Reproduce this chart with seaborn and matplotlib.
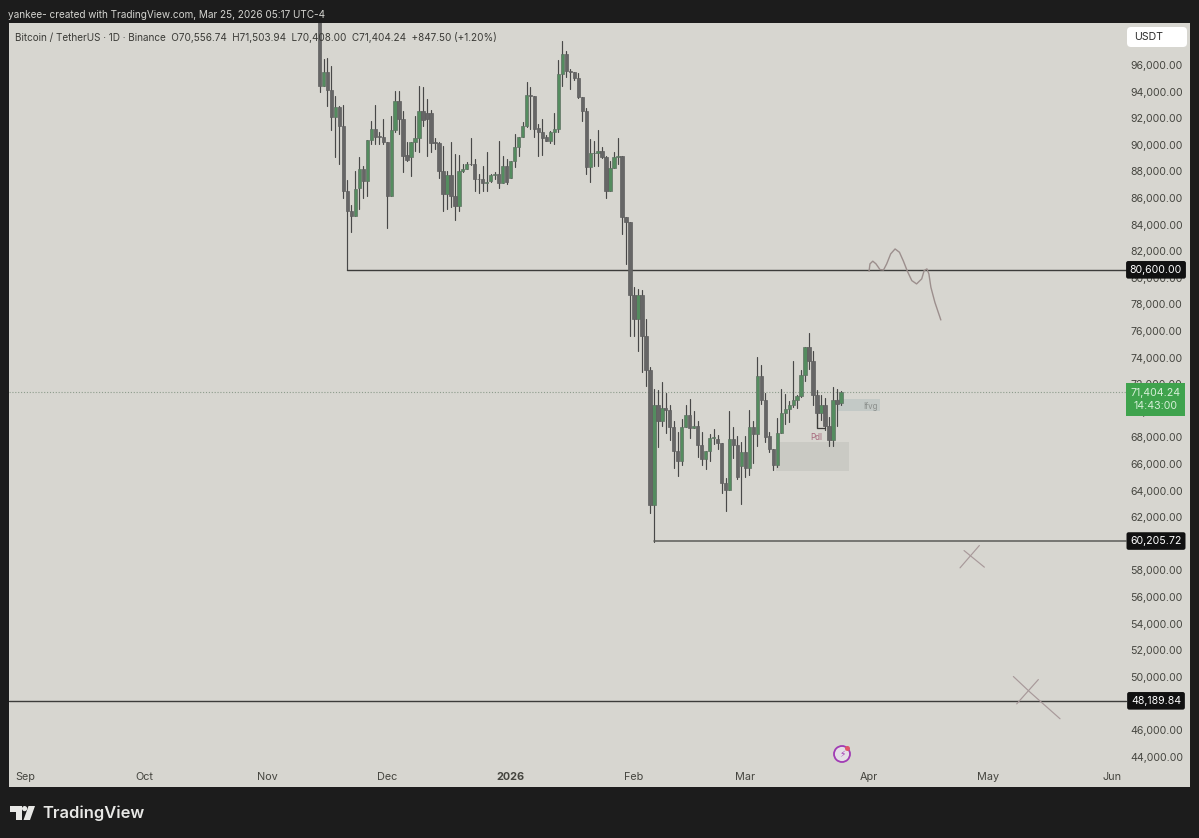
import numpy as np
import pandas as pd
import matplotlib
matplotlib.use("Agg")
import matplotlib.pyplot as plt
from matplotlib.patches import Rectangle, Polygon, Ellipse, FancyBboxPatch
from matplotlib.transforms import blended_transform_factory, IdentityTransform
import seaborn as sns

# Daily candles, thousand USDT, first candle 14 Nov 2025 (day 74 counted from 1 Sep 2025)
first_day = 74
opens = [99.7,94.46,95.51,94.13,92.07,92.83,91.45,86.49,85.01,84.63,86.74,88.19,87.26,90.37,91.20,90.69,90.62,90.24,86.18,91.12,93.33,91.95,89.24,89.12,90.24,90.52,92.58,92.36,92.36,90.19,90.12,88.06,86.31,87.76,86.13,85.43,88.01,88.19,88.57,88.54,87.44,
         87.44,87.11,87.26,87.76,87.80,87.11,88.37,87.51,88.77,89.87,90.57,91.40,93.75,93.65,91.25,90.95,90.62,90.32,90.95,91.20,95.33,96.84,95.53,95.46,95.01,93.58,92.53,88.32,89.37,89.40,89.52,89.12,86.56,88.24,89.12,89.19,84.56,
         84.18,78.67,76.91,78.67,75.66,73.08,62.88,70.47,69.22,70.22,70.07,68.77,66.96,66.21,68.77,69.72,68.72,68.82,
         67.39,66.39,66.94,67.97,67.89,67.59,64.56,64.01,67.89,67.39,65.84,66.89,65.71,68.77,68.27,72.58,70.82,68.07,67.14,65.89,68.34,69.85,70.10,70.47,70.82,71.10,72.70,74.78,73.78,71.15,69.85,70.40,68.82,67.77,70.82,70.557]
highs = [99.9,96.46,96.54,95.96,93.70,92.95,93.03,87.39,85.51,88.01,89.12,88.44,90.37,91.82,93.03,90.95,91.95,90.24,92.20,94.08,94.03,92.58,90.19,90.24,92.20,94.46,94.33,93.45,92.63,90.52,90.19,89.94,88.06,90.24,89.32,89.27,88.57,88.69,90.52,88.94,87.81,
         88.44,89.45,87.81,87.94,90.32,89.19,88.94,88.77,90.82,90.57,91.70,94.70,94.33,93.65,91.57,91.95,90.77,91.07,92.37,96.38,97.84,97.09,95.71,95.46,95.38,93.58,92.78,90.44,90.27,91.15,89.87,89.19,88.82,89.45,90.52,89.19,84.56,
         84.18,79.30,79.17,79.05,76.91,73.28,71.65,71.58,72.20,71.33,70.40,69.22,68.39,69.40,70.47,70.90,70.02,69.20,
         68.39,66.94,68.27,68.64,68.19,67.59,64.96,69.97,68.77,68.14,67.64,68.14,70.07,69.22,74.03,73.48,71.33,68.44,67.14,69.47,71.65,71.23,70.77,73.78,71.15,73.08,74.78,75.86,74.53,71.53,71.15,70.97,69.52,71.78,71.65,71.504]
lows = [93.95,94.4,92.95,91.12,89.12,88.57,86.01,80.60,83.43,84.63,85.18,86.01,86.18,90.07,90.07,90.07,90.07,83.75,86.18,90.95,90.82,87.94,88.82,87.64,89.52,89.45,91.45,89.19,89.45,89.70,87.51,85.06,85.18,85.31,84.38,85.06,87.94,88.19,88.49,86.51,86.36,
        86.56,86.51,87.19,87.44,86.76,87.11,87.06,87.51,88.32,89.19,90.57,91.32,91.20,90.57,89.19,89.27,90.27,90.12,90.07,90.95,94.46,95.08,94.21,94.91,93.50,91.82,87.81,87.19,88.44,88.44,89.02,85.98,86.49,88.24,88.57,83.26,81.05,
        75.66,75.66,74.53,72.90,71.85,62.30,60.12,67.27,68.82,68.32,67.77,65.71,65.06,65.89,68.77,67.97,68.72,66.56,
        65.89,65.64,66.26,67.52,67.14,63.83,62.50,64.01,66.46,64.88,63.01,65.01,65.14,66.06,67.32,70.52,67.64,66.89,65.56,65.81,68.34,69.02,69.15,70.32,70.22,71.07,72.23,73.16,70.40,68.72,69.32,68.52,67.32,67.32,68.82,70.408]
closes = [94.46,95.51,94.13,92.12,92.83,91.45,86.49,85.01,84.63,86.69,88.19,87.26,90.37,91.20,90.57,90.57,90.24,86.18,91.12,93.33,91.95,89.19,88.87,90.24,90.52,92.58,91.87,91.95,90.12,90.12,88.06,86.31,87.76,86.13,85.43,88.01,88.19,88.57,88.54,87.44,87.40,
          87.11,87.17,87.76,87.80,87.11,88.37,87.19,88.77,89.87,90.57,91.40,93.75,93.65,91.20,90.95,90.52,90.32,90.95,91.20,95.33,96.84,95.53,95.46,95.01,93.58,92.53,88.32,89.37,89.40,89.52,89.12,86.56,88.24,89.12,89.19,84.56,84.18,
          78.67,76.91,78.67,75.66,73.08,62.88,70.47,69.22,70.22,70.07,68.77,66.96,66.21,68.77,69.72,68.72,68.82,67.39,
          66.39,66.94,67.97,68.00,67.59,64.56,64.01,67.89,67.39,65.01,66.89,65.71,68.77,68.27,72.58,70.82,68.02,67.14,65.89,68.34,69.85,70.10,70.47,70.82,71.10,72.70,74.78,73.78,71.15,69.85,70.40,68.82,67.77,70.82,70.52,71.404]

# 48,000 and 60,000 are hidden behind the price tags in the source
price_ticks = [p for p in range(44, 97, 2) if p not in (48, 60)]
month_days = [0, 30, 61, 91, 122, 153, 181, 212, 242, 273]
month_labels = ["Sep", "Oct", "Nov", "Dec", "2026", "Feb", "Mar", "Apr", "May", "Jun"]

# Annotation levels
level_top = 80.6
level_mid = 60.20572
level_low = 48.18984
last_close = 71.40424

sketch_days = [212.06,212.3,213.0,213.8,214.8,215.7,216.5,217.5,218.6,219.7,220.7,221.7,222.8,224.0,225.3,225.9,226.6,227.1,227.6,228.6,230.1]
sketch_prices = [80.49,81.05,81.25,81.05,80.62,80.59,81.05,81.80,82.17,81.92,81.25,80.49,79.79,79.54,79.92,80.54,80.67,80.29,79.29,78.16,76.83]
cross_strokes = {
    "a1": ([235.93, 241.04], [59.49, 58.24]),
    "b1": ([239.78, 234.92], [59.87, 58.19]),
    "a2": ([248.32, 252.51, 260.05], [50.02, 48.84, 46.84]),
    "b2": ([254.60, 249.16], [49.79, 47.96]),
}

W, H = 1199, 838
BG = "#1c1c1c"
PANEL = "#d7d6d0"
TXT = "#45453f"
sns.set_theme(style="white", rc={"figure.facecolor": BG, "axes.facecolor": PANEL})
plt.rcParams["font.family"] = ["Inter", "DejaVu Sans"]

fig = plt.figure(figsize=(W / 100, H / 100), dpi=100, facecolor=BG)
L, R, T, B = 9, 1190, 23, 787
ax = fig.add_axes([L / W, 1 - B / H, (R - L) / W, (B - T) / H], facecolor=PANEL)

ax.set_xlim(-4.02, 292.7)
ax.set_ylim(41.71, 99.16)
xpx = lambda x: (x - L) / (R - L)

n = len(opens)
days = np.arange(first_day, first_day + n)
o, h, l, c = map(np.array, (opens, highs, lows, closes))

# wicks through seaborn
wick = pd.DataFrame({
    "id": np.r_[days, days],
    "day": np.r_[days, days],
    "price": np.r_[l, h],
})
sns.lineplot(data=wick, x="day", y="price", units="id", estimator=None, sort=False,
             color="#484848", lw=0.85, ax=ax, legend=False, zorder=3)

# bodies
up = c >= o
ax.bar(days[up], (c - o)[up], bottom=o[up], width=0.84, color="#548c5f",
       edgecolor="#5f7163", linewidth=0.5, zorder=4)
ax.bar(days[~up], (o - c)[~up], bottom=c[~up], width=0.84, color="#666666",
       edgecolor="#5e5e5e", linewidth=0.5, zorder=4)

# levels
def path(xs, ys, color, lw, z=3, **kw):
    sns.lineplot(x=xs, y=ys, sort=False, estimator=None, color=color, lw=lw, ax=ax,
                 legend=False, zorder=z, **kw)

line_end = 276.5
path([81, line_end], [level_top, level_top], "#3c3c3a", 1.0)
path([158, line_end], [level_mid, level_mid], "#5c5c58", 1.1)
path([-4.02, line_end], [level_low, level_low], "#3c3c3a", 1.0)
path([-4.02, line_end], [last_close, last_close], "#8d9c8c", 0.8, z=2, linestyle=(0, (1, 1.6)))
path([199, 199, 201], [69.85, 68.74, 68.74], "#3c3c3a", 0.9, z=3)

# zones
ax.add_patch(Rectangle((188.6, 65.44), 18.5, 2.25, color="#cacac4", lw=0, zorder=2))
ax.add_patch(Rectangle((204.2, 69.97), 10.7, 0.95, color="#c3c9c6", lw=0, zorder=2))
ax.text(212.4, 70.3, "Ifvg", fontsize=5.8, color="#8b8f8c", ha="center", va="center", zorder=5)
ax.text(198.7, 68.0, "Pdl", fontsize=5.8, color="#a5667a", ha="center", va="center", zorder=5)

# hand sketches
path(sketch_days, sketch_prices, "#9c8f8d", 1.0, z=5)
for xs, ys in cross_strokes.values():
    path(xs, ys, "#a8999a", 0.85, z=5)

# axes
ax.set_xlabel("")
ax.set_ylabel("")
sns.despine(ax=ax, left=True, bottom=True, right=True, top=True)
ax.yaxis.tick_right()
ax.set_yticks(price_ticks)
ax.set_yticklabels([f"{p * 1000:,.2f}" for p in price_ticks])
ax.tick_params(axis="y", length=0, pad=-42.8, labelsize=7.6, labelcolor=TXT)
ax.set_xticks(month_days)
ax.set_xticklabels(month_labels)
ax.tick_params(axis="x", length=0, pad=-11, labelsize=7.8, labelcolor=TXT)
ax.get_xticklabels()[4].set_fontweight("bold")
ax.set_axisbelow("line")

# price tags
tr = blended_transform_factory(ax.transAxes, ax.transData)
def tag(y, s, fc, col="white", size=7.6):
    ax.text(xpx(1156), y, s, transform=tr, ha="center", va="center", fontsize=size, color=col, zorder=8,
            clip_on=False, bbox=dict(boxstyle="round,pad=0.36,rounding_size=0.2", fc=fc, ec="none"))

tag(level_top, "80,600.00", "#111111")
tag(level_mid, "60,205.72", "#111111")
tag(level_low, "48,189.84", "#111111")
ax.text(xpx(1155.5), 70.85, "71,404.24\n14:43:00", transform=tr, ha="center", va="center",
        fontsize=7.6, color="#d6efd8", linespacing=1.4, zorder=8,
        bbox=dict(boxstyle="square,pad=0.42", fc="#3fa34d", ec="none"))

# figure furniture
fx = lambda x: x / W
fy = lambda y: 1 - y / H
fig.patches.append(FancyBboxPatch((1131, H - 43), 52, 12, boxstyle="round,pad=4,rounding_size=4",
                                  transform=IdentityTransform(), fc="white", ec="none", zorder=9))
fig.text(fx(1134), fy(37), "USDT", fontsize=7.6, color="#2b2b2b", va="center", zorder=10)
fig.text(fx(8), fy(15), "yankee- created with TradingView.com, Mar 25, 2026 05:17 UTC-4",
         fontsize=7.2, color="#d4d4d0", va="center")
fig.text(fx(15), fy(37.5),
         "Bitcoin / TetherUS · 1D · Binance  O70,556.74  H71,503.94  L70,408.00  C71,404.24  +847.50 (+1.20%)",
         fontsize=7.15, color="#3a3a36", va="center", zorder=10)
fig.text(fx(42), fy(813), "TradingView", fontsize=11.9, fontweight="semibold", color="#e8e8e6", va="center")

def poly(pts, color):
    fig.patches.append(Polygon([(fx(x), fy(y)) for x, y in pts], closed=True, transform=fig.transFigure,
                               fc=color, ec="none"))
poly([(10, 806), (22, 806), (22, 820), (15.5, 820), (15.5, 811.5), (10, 811.5)], "#e8e8e6")
poly([(28.5, 806), (35, 806), (30, 820), (23.5, 820)], "#e8e8e6")
fig.patches.append(Ellipse((fx(24.6), fy(808.6)), 5.2 / W, 5.2 / H, transform=fig.transFigure, fc="#e8e8e6", ec="none"))

# alert icon
fig.patches.append(Ellipse((fx(842), fy(754)), 16 / W, 16 / H, transform=fig.transFigure,
                           fc="#e4dee6", ec="#a13cb4", lw=1.3, zorder=9))
fig.text(fx(842), fy(754), "⚡", fontsize=6.5, color="#a13cb4", ha="center", va="center",
         family=["DejaVu Sans"], zorder=10)
fig.patches.append(Ellipse((fx(847.5), fy(748.5)), 5 / W, 5 / H, transform=fig.transFigure, fc="#e0566a", ec="none", zorder=10))

fig.savefig("out.png", dpi=100, facecolor=BG)
